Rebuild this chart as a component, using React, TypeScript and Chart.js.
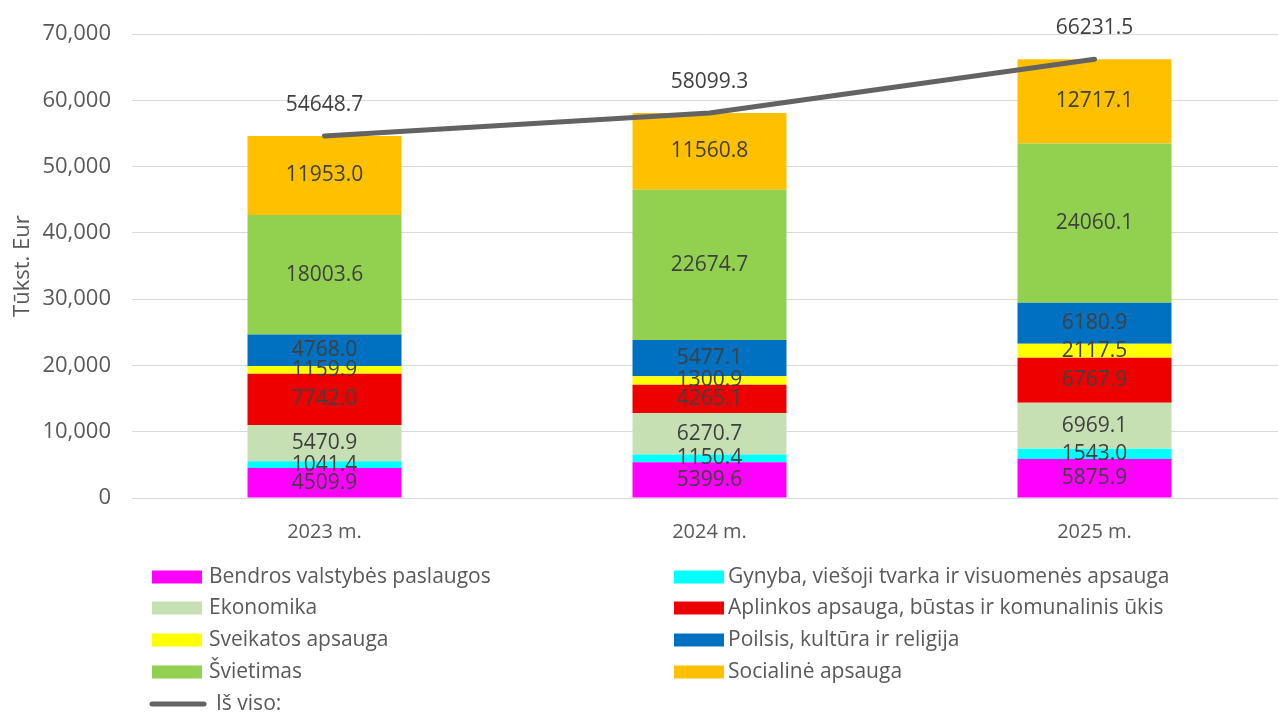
import React, { useEffect, useRef } from "react";
import { Chart, registerables } from "chart.js";
Chart.register(...registerables);

const FONT = "'Open Sans', sans-serif";

const categories = ["2023 m.", "2024 m.", "2025 m."];
const seriesNames = [
  "Bendros valstybės paslaugos",
  "Gynyba, viešoji tvarka ir visuomenės apsauga",
  "Ekonomika",
  "Aplinkos apsauga, būstas ir komunalinis ūkis",
  "Sveikatos apsauga",
  "Poilsis, kultūra ir religija",
  "Švietimas",
  "Socialinė apsauga",
];
const totalName = "Iš viso:";
const bendros = [4509.9, 5399.6, 5875.9];
const gynyba = [1041.4, 1150.4, 1543.0];
const ekonomika = [5470.9, 6270.7, 6969.1];
const aplinkos = [7742.0, 4265.1, 6767.9];
const sveikatos = [1159.9, 1300.9, 2117.5];
const poilsis = [4768.0, 5477.1, 6180.9];
const svietimas = [18003.6, 22674.7, 24060.1];
const socialine = [11953.0, 11560.8, 12717.1];
const isViso = [54648.7, 58099.3, 66231.5];
const yMin = 0;
const yMax = 70000;
const yStep = 10000;
const yTitle = "Tūkst. Eur";

const seriesValues = [bendros, gynyba, ekonomika, aplinkos, sveikatos, poilsis, svietimas, socialine];
const seriesColors = ["#FF00FF", "#00FFFF", "#C6E0B4", "#EE0000", "#FFFF00", "#0070C0", "#92D050", "#FFC000"];
const lineColor = "#636363";

const labelPlugin = {
  id: "valueLabels",
  afterDatasetsDraw(chart: any) {
    const ctx = chart.ctx;
    ctx.save();
    ctx.font = `21px ${FONT}`;
    ctx.fillStyle = "#404040";
    ctx.textAlign = "center";
    ctx.textBaseline = "middle";
    chart.data.datasets.forEach((ds: any, i: number) => {
      const meta = chart.getDatasetMeta(i);
      meta.data.forEach((el: any, j: number) => {
        const v = ds.data[j] as number;
        if (ds.type === "line") {
          ctx.fillText(v.toFixed(1), el.x, el.y - 31);
        } else {
          ctx.fillText(v.toFixed(1), el.x, (el.y + el.base) / 2);
        }
      });
    });
    ctx.restore();
  },
};

const legendPlugin = {
  id: "customLegend",
  afterDraw(chart: any) {
    const ctx = chart.ctx;
    ctx.save();
    ctx.font = `21px ${FONT}`;
    ctx.fillStyle = "#595959";
    ctx.textBaseline = "middle";
    ctx.textAlign = "left";
    const rowY = [577, 608, 640, 672, 704];
    const colSwatchX = [152, 674];
    const colTextX = [209, 728];
    seriesNames.forEach((name, i) => {
      const row = Math.floor(i / 2);
      const col = i % 2;
      const y = rowY[row];
      ctx.fillStyle = seriesColors[i];
      ctx.fillRect(colSwatchX[col], y - 6.5, 50, 13);
      ctx.fillStyle = "#595959";
      ctx.fillText(name, colTextX[col], y);
    });
    const y = rowY[4];
    ctx.strokeStyle = lineColor;
    ctx.lineWidth = 5;
    ctx.lineCap = "round";
    ctx.beginPath();
    ctx.moveTo(152, y);
    ctx.lineTo(204, y);
    ctx.stroke();
    ctx.fillStyle = "#595959";
    ctx.fillText(totalName, 216, y);
    ctx.restore();
  },
};

export default function App() {
  const ref = useRef<HTMLCanvasElement>(null);
  useEffect(() => {
    if (!ref.current) return;
    const datasets: any[] = seriesNames.map((name, i) => ({
      type: "bar",
      label: name,
      data: seriesValues[i],
      backgroundColor: seriesColors[i],
      borderWidth: 0,
      stack: "s",
      order: 2,
      barPercentage: 0.4,
      categoryPercentage: 1,
    }));
    datasets.push({
      type: "line",
      label: totalName,
      data: isViso,
      borderColor: lineColor,
      backgroundColor: lineColor,
      borderWidth: 5,
      pointRadius: 0,
      borderCapStyle: "round",
      tension: 0,
      order: 0,
    });
    const chart = new Chart(ref.current, {
      type: "bar",
      data: { labels: categories, datasets },
      options: {
        animation: false,
        responsive: false,
        maintainAspectRatio: false,
        layout: { padding: { top: 30, right: 5, bottom: 155, left: 0 } },
        plugins: { legend: { display: false }, tooltip: { enabled: false } },
        scales: {
          x: {
            stacked: true,
            grid: { display: false },
            border: { display: false },
            ticks: { color: "#595959", font: { family: FONT, size: 20 }, padding: 14 },
            afterFit: (s: any) => { s.height = 60; },
          },
          y: {
            stacked: true,
            min: yMin,
            max: yMax,
            grid: { color: "#D9D9D9", lineWidth: 1, drawTicks: false },
            border: { display: false },
            ticks: {
              stepSize: yStep,
              color: "#595959",
              font: { family: FONT, size: 22 },
              padding: 21,
              callback: (v: any) => Number(v).toLocaleString("en-US"),
            },
            title: {
              display: true,
              text: yTitle,
              color: "#595959",
              font: { family: FONT, size: 22 },
              padding: { top: 10, bottom: 0 },
            },
            afterFit: (s: any) => { s.width = 132; },
          },
        },
      },
      plugins: [labelPlugin, legendPlugin],
    });
    return () => chart.destroy();
  }, []);
  return (
    <div style={{ position: "fixed", left: 0, top: 0, width: 1278, height: 713, overflow: "hidden", background: "#fff" }}>
      <canvas ref={ref} width={1292} height={713} style={{ display: "block" }} />
    </div>
  );
}
